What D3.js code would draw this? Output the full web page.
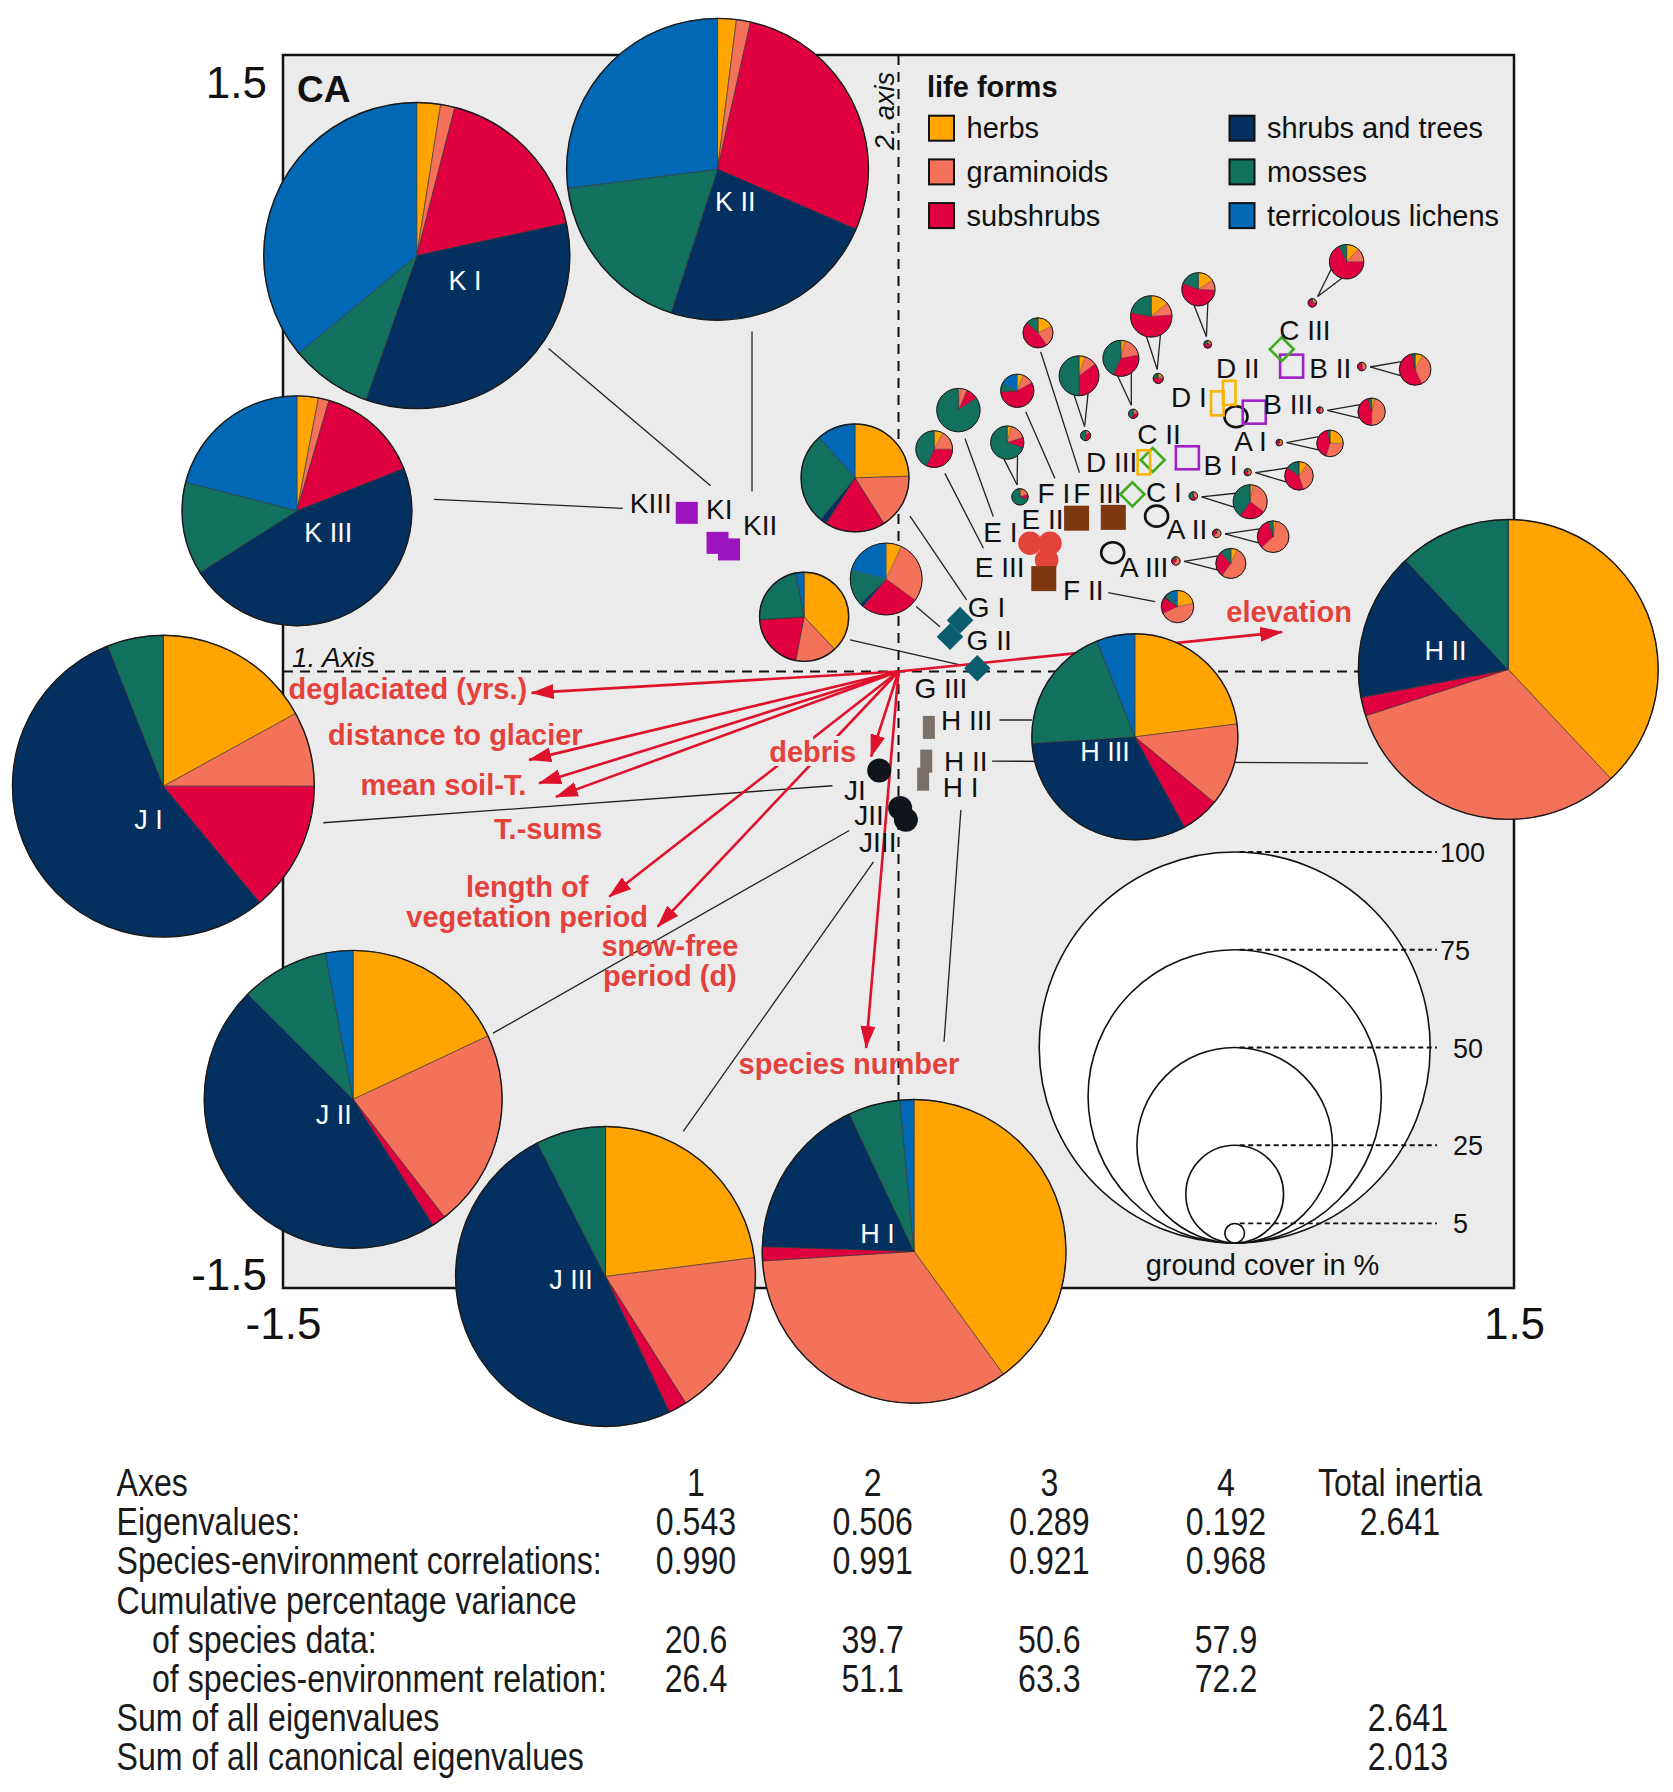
<!DOCTYPE html>
<html>
<head>
<meta charset="utf-8">
<title>CA life forms</title>
<script src="https://cdnjs.cloudflare.com/ajax/libs/d3/7.8.5/d3.min.js"></script>
<style>
  body { margin: 0; background: #fff; }
  text { font-family: "Liberation Sans", Arial, sans-serif; }
</style>
</head>
<body>
<svg id="chart" width="1673" height="1792"></svg>
<script>
// life form categories (pie slice order, clockwise from 12 o'clock)
var lifeForms = ["herbs", "graminoids", "subshrubs", "shrubs and trees", "mosses", "terricolous lichens"];
var lifeColors = ["#ffa400", "#f4715a", "#e1003f", "#03305e", "#12705e", "#0068b5"];

// site scores on CA axes 1 and 2
var siteScores = [
  ["A I", 0.8225, 0.620], ["A II", 0.629, 0.378], ["A III", 0.522, 0.289],
  ["B I", 0.704, 0.520], ["B II", 0.958, 0.743], ["B III", 0.867, 0.631],
  ["C I", 0.570, 0.431], ["C II", 0.6195, 0.5146], ["C III", 0.934, 0.784],
  ["D I", 0.777, 0.6525], ["D II", 0.806, 0.678], ["D III", 0.598, 0.509],
  ["E I", 0.3205, 0.312], ["E II", 0.369, 0.312], ["E III", 0.361, 0.271],
  ["F I", 0.434, 0.373], ["F II", 0.354, 0.226], ["F III", 0.5235, 0.375],
  ["G I", 0.150, 0.125], ["G II", 0.1255, 0.0847], ["G III", 0.192, 0.008],
  ["H I", 0.060, -0.262], ["H II", 0.0676, -0.218], ["H III", 0.074, -0.136],
  ["J I", -0.047, -0.241], ["J II", 0.004, -0.332], ["J III", 0.018, -0.361],
  ["K I", -0.441, 0.313], ["K II", -0.413, 0.297], ["K III", -0.516, 0.386]
];

// pie charts: name, centre x, centre y, ground cover %, life form shares %
var pies = [
  ["K I", -1.174, 1.012, 78.3, [2.5, 1.5, 17.6, 33.8, 8.6, 36]],
  ["K II", -0.441, 1.222, 77.2, [2, 1.5, 28, 23.5, 18, 27]],
  ["K III", -1.466, 0.391, 58.8, [3, 1.5, 14.5, 47, 13, 21]],
  ["J I", -1.7915, -0.279, 77.2, [17, 8, 14, 55, 6, 0]],
  ["J II", -1.329, -1.041, 76.2, [18, 21.5, 1.5, 46.5, 9.5, 3]],
  ["J III", -0.714, -1.472, 76.7, [23, 18, 2, 49.5, 7.5, 0]],
  ["H I", 0.038, -1.411, 77.7, [40, 34, 1.5, 17.5, 5.5, 1.5]],
  ["H II", 1.486, 0.005, 76.7, [38, 32, 2, 16, 12, 0]],
  ["H III", 0.576, -0.159, 52.7, [23, 13, 6, 32, 20, 6]],
  ["G I", -0.106, 0.471, 27.6, [24.5, 16.5, 18, 2, 27.5, 11.5]],
  ["G II", -0.030, 0.225, 18.4, [7, 28, 26, 2, 16, 21]],
  ["G III", -0.230, 0.133, 22.8, [38, 15, 21, 0, 23, 3]],
  ["E I", 0.146, 0.636, 11.1, [1.5, 5, 9, 0, 84.5, 0]],
  ["E II", 0.265, 0.557, 8.5, [4, 16, 10, 0, 70, 0]],
  ["E III", 0.087, 0.541, 9.4, [8, 17, 32, 0, 43, 0]],
  ["F I", 0.2895, 0.683, 8.5, [6, 11, 57, 0, 8, 18]],
  ["F II", 0.680, 0.158, 8.3, [22, 46, 16, 2, 5, 9]],
  ["F III", 0.340, 0.824, 7.7, [18, 22, 47, 0, 13, 0]],
  ["C III", 1.092, 0.997, 8.8, [12, 13, 68, 0, 7, 0]],
  ["D II", 0.731, 0.930, 8.5, [16, 10, 55, 0, 19, 0]],
  ["D I", 0.616, 0.864, 10.6, [14, 10, 54, 0, 22, 0]],
  ["C II", 0.542, 0.762, 9.2, [4, 18, 35, 0, 43, 0]],
  ["D III", 0.440, 0.7195, 10.2, [5, 10, 35, 0, 50, 0]],
  ["B II", 1.259, 0.735, 8.1, [8, 35, 54, 0, 3, 0]],
  ["B III", 1.153, 0.632, 7.0, [4, 46, 46, 0, 4, 0]],
  ["A I", 1.0516, 0.555, 6.8, [25, 30, 42, 0, 3, 0]],
  ["B I", 0.976, 0.476, 7.3, [10, 35, 40, 0, 15, 0]],
  ["C I", 0.857, 0.413, 8.7, [3, 32, 25, 0, 40, 0]],
  ["A II", 0.913, 0.328, 8.1, [3, 60, 32, 0, 5, 0]],
  ["A III", 0.810, 0.263, 7.7, [7, 53, 28, 0, 12, 0]]
];

// true-size pies for the magnified ones: name, x, y, ground cover %
var tinyPies = [
  ["E II", 0.296, 0.425, 4.2], ["C III", 1.0085, 0.897, 2.2], ["D II", 0.7535, 0.796, 2.0],
  ["D I", 0.633, 0.713, 2.6], ["C II", 0.572, 0.627, 2.4], ["D III", 0.456, 0.574, 2.6],
  ["B II", 1.129, 0.742, 2.2], ["B III", 1.027, 0.636, 1.7], ["A I", 0.928, 0.557, 1.7],
  ["B I", 0.851, 0.485, 1.9], ["C I", 0.7185, 0.427, 2.2], ["A II", 0.7755, 0.336, 2.2],
  ["A III", 0.676, 0.269, 2.2]
];

// leader lines between pies and sites
var leaders = [
  [-0.853, 0.786, -0.458, 0.452], [-0.357, 0.8275, -0.357, 0.438], [-1.132, 0.419, -0.672, 0.397],
  [-1.402, -0.368, -0.161, -0.278], [-0.988, -0.880, -0.120, -0.387], [-0.5245, -1.119, -0.061, -0.463],
  [0.111, -0.901, 0.152, -0.337], [0.228, -0.218, 1.144, -0.223], [0.246, -0.118, 0.325, -0.118],
  [0.028, 0.378, 0.166, 0.174], [0.043, 0.158, 0.101, 0.109], [-0.118, 0.077, 0.150, 0.016],
  [0.162, 0.567, 0.231, 0.377], [0.113, 0.482, 0.207, 0.300], [0.310, 0.632, 0.381, 0.470],
  [0.3465, 0.778, 0.441, 0.484], [0.511, 0.192, 0.625, 0.170]
];

// environmental variables (arrow tips)
var envVectors = [
  ["deglaciated (yrs.)", -0.894, -0.052], ["distance to glacier", -0.900, -0.215],
  ["mean soil-T.", -0.876, -0.272], ["T.-sums", -0.835, -0.305],
  ["length of vegetation period", -0.705, -0.548], ["snow-free period (d)", -0.587, -0.621],
  ["debris", -0.067, -0.207], ["species number", -0.079, -0.916], ["elevation", 0.935, 0.096]
];
var envLabels = [
  [["deglaciated (yrs.)"], -0.905, -0.067, "end"], [["distance to glacier"], -1.080, -0.179, "middle"],
  [["mean soil-T."], -1.109, -0.3005, "middle"], [["T.-sums"], -0.854, -0.4075, "middle"],
  [["length of", "vegetation period"], -0.905, -0.5487, "middle"],
  [["snow-free", "period (d)"], -0.557, -0.6934, "middle"],
  [["debris"], -0.209, -0.220, "middle"], [["species number"], -0.1206, -0.979, "middle"],
  [["elevation"], 0.952, 0.120, "middle"]
];

// site label anchors
var siteLabels = [
  ["KIII", -0.655, 0.386], ["KI", -0.469, 0.372], ["KII", -0.379, 0.331],
  ["G I", 0.169, 0.133], ["G II", 0.166, 0.052], ["G III", 0.039, -0.064],
  ["H III", 0.1036, -0.142], ["H II", 0.111, -0.241], ["H I", 0.108, -0.305],
  ["JI", -0.133, -0.313], ["JII", -0.108, -0.373], ["JIII", -0.096, -0.438],
  ["E I", 0.2067, 0.316], ["E II", 0.300, 0.346], ["E III", 0.186, 0.231],
  ["F I", 0.339, 0.409], ["F III", 0.426, 0.409], ["F II", 0.401, 0.174],
  ["D III", 0.457, 0.486], ["C II", 0.582, 0.553], ["C I", 0.603, 0.413],
  ["B I", 0.743, 0.478], ["A II", 0.654, 0.322], ["A III", 0.540, 0.231],
  ["C III", 0.928, 0.807], ["D II", 0.774, 0.715], ["B II", 1.001, 0.715],
  ["D I", 0.664, 0.644], ["B III", 0.889, 0.626], ["A I", 0.818, 0.5365]
];
var pieLabels = [
  ["K I", -1.0565, 0.928], ["K II", -0.398, 1.120], ["K III", -1.390, 0.315],
  ["J I", -1.828, -0.383], ["J II", -1.376, -1.101], ["J III", -0.798, -1.502],
  ["H I", -0.051, -1.390], ["H II", 1.333, 0.028], ["H III", 0.503, -0.218]
];

var coverLegend = [100, 75, 50, 25, 5];

// statistics table
var tableRows = ["Axes", "Eigenvalues:", "Species-environment correlations:", "Cumulative percentage variance",
  "of species data:", "of species-environment relation:", "Sum of all eigenvalues", "Sum of all canonical eigenvalues"];
var axisNums = [1, 2, 3, 4];
var eigenvalues = [0.543, 0.506, 0.289, 0.192];
var correlations = [0.990, 0.991, 0.921, 0.968];
var cumSpecies = [20.6, 39.7, 50.6, 57.9];
var cumRelation = [26.4, 51.1, 63.3, 72.2];
var totalInertia = 2.641, sumAll = 2.641, sumCanonical = 2.013;

// marker style per site group
var markerStyle = {
  A: {shape: "ellipse", fill: "none", stroke: "#111"},
  B: {shape: "square", size: 23, fill: "none", stroke: "#9e22c6"},
  C: {shape: "diamond", size: 12, fill: "none", stroke: "#3faa1e"},
  D: {shape: "rect", w: 12.5, h: 24, fill: "none", stroke: "#f7b500"},
  E: {shape: "circle", r: 11.8, fill: "#e2433a"},
  F: {shape: "square", size: 25, fill: "#7d3810"},
  G: {shape: "diamond", size: 13.3, fill: "#0b5c6e"},
  H: {shape: "rect", w: 12, h: 23, fill: "#7a7067"},
  J: {shape: "circle", r: 12, fill: "#0f141a"},
  K: {shape: "square", size: 22, fill: "#9c14be"}
};

var svg = d3.select("#chart");
var x = d3.scaleLinear().domain([-1.5, 1.5]).range([283, 1514]);
var y = d3.scaleLinear().domain([-1.5, 1.5]).range([1288, 55]);
var rScale = d3.scaleLinear().domain([0, 100]).range([0, 195.5]);
var red = "#e0112b", redText = "#e4413c";

var defs = svg.append("defs");
defs.append("marker").attr("id", "ah")
    .attr("viewBox", "0 -7.5 23 15").attr("refX", 22).attr("refY", 0)
    .attr("markerWidth", 23).attr("markerHeight", 15)
    .attr("markerUnits", "userSpaceOnUse").attr("orient", "auto")
  .append("path").attr("d", "M0,-7.5L23,0L0,7.5Z").attr("fill", red);

// plot area
svg.append("rect")
    .attr("x", x(-1.5)).attr("y", y(1.5))
    .attr("width", x(1.5) - x(-1.5)).attr("height", y(-1.5) - y(1.5))
    .attr("fill", "#ebebeb").attr("stroke", "#111").attr("stroke-width", 2.5);

svg.append("line").attr("x1", x(0)).attr("x2", x(0)).attr("y1", y(1.5)).attr("y2", y(-1.5))
    .attr("stroke", "#111").attr("stroke-width", 2).attr("stroke-dasharray", "10,7");
svg.append("line").attr("x1", x(-1.5)).attr("x2", x(1.5)).attr("y1", y(0)).attr("y2", y(0))
    .attr("stroke", "#111").attr("stroke-width", 2).attr("stroke-dasharray", "10,7");

// leader lines
svg.append("g").selectAll("line").data(leaders).enter().append("line")
    .attr("x1", function(d) { return x(d[0]); }).attr("y1", function(d) { return y(d[1]); })
    .attr("x2", function(d) { return x(d[2]); }).attr("y2", function(d) { return y(d[3]); })
    .attr("stroke", "#222").attr("stroke-width", 1.3);

var pieByName = {};
pies.forEach(function(p) { pieByName[p[0]] = p; });

// V shaped connectors from true-size pie to magnified pie
var vg = svg.append("g");
tinyPies.forEach(function(t) {
  var p = pieByName[t[0]];
  var cx = x(p[1]), cy = y(p[2]), R = rScale(p[3]);
  var tx = x(t[1]), ty = y(t[2]), tr = rScale(t[3]);
  var dx = cx - tx, dy = cy - ty, dd = Math.sqrt(dx * dx + dy * dy);
  var ux = dx / dd, uy = dy / dd;
  var ax = tx + ux * (tr + 4), ay = ty + uy * (tr + 4);
  var h = Math.min(7, R * 0.5), back = Math.sqrt(R * R - h * h);
  [-1, 1].forEach(function(s) {
    vg.append("line").attr("x1", ax).attr("y1", ay)
      .attr("x2", cx - ux * back - s * uy * h).attr("y2", cy - uy * back + s * ux * h)
      .attr("stroke", "#222").attr("stroke-width", 1.3);
  });
});

// environmental arrows
var origin = [x(0), y(0)];
svg.append("g").selectAll("line").data(envVectors).enter().append("line")
    .attr("x1", origin[0]).attr("y1", origin[1])
    .attr("x2", function(d) { return x(d[1]); }).attr("y2", function(d) { return y(d[2]); })
    .attr("stroke", red).attr("stroke-width", 2.6).attr("marker-end", "url(#ah)");

// pies
var pieGen = d3.pie().sort(null).value(function(d) { return d; });
var arc = d3.arc().innerRadius(0);
function drawPie(parent, cx, cy, r, shares) {
  var pg = parent.append("g").attr("transform", "translate(" + cx + "," + cy + ")");
  pg.selectAll("path").data(pieGen(shares)).enter().append("path")
    .attr("d", function(d) { return arc.outerRadius(r)(d); })
    .attr("fill", function(d, i) { return lifeColors[i]; })
    .attr("stroke", "#333").attr("stroke-width", r > 40 ? 0.6 : 0.3);
  pg.append("circle").attr("r", r).attr("fill", "none")
    .attr("stroke", "#1a1a1a").attr("stroke-width", r > 40 ? 1.4 : 1);
}
var pieLayer = svg.append("g");
pies.forEach(function(p) { drawPie(pieLayer, x(p[1]), y(p[2]), rScale(p[3]), p[4]); });
tinyPies.forEach(function(t) { drawPie(pieLayer, x(t[1]), y(t[2]), rScale(t[3]), pieByName[t[0]][4]); });

// site markers
var mk = svg.append("g");
siteScores.forEach(function(s) {
  var st = markerStyle[s[0].charAt(0)];
  var px = x(s[1]), py = y(s[2]), el;
  if (st.shape === "ellipse") {
    el = mk.append("ellipse").attr("cx", px).attr("cy", py).attr("rx", 11.5).attr("ry", 10.5);
  } else if (st.shape === "circle") {
    el = mk.append("circle").attr("cx", px).attr("cy", py).attr("r", st.r);
  } else if (st.shape === "square") {
    el = mk.append("rect").attr("x", px - st.size / 2).attr("y", py - st.size / 2)
      .attr("width", st.size).attr("height", st.size);
  } else if (st.shape === "rect") {
    el = mk.append("rect").attr("x", px - st.w / 2).attr("y", py - st.h / 2)
      .attr("width", st.w).attr("height", st.h);
  } else {
    var a = st.size;
    el = mk.append("path").attr("d", "M" + px + "," + (py - a) + "L" + (px + a) + "," + py +
      "L" + px + "," + (py + a) + "L" + (px - a) + "," + py + "Z");
  }
  el.attr("fill", st.fill);
  if (st.stroke) el.attr("stroke", st.stroke).attr("stroke-width", 2.6);
});

// site labels
svg.append("g").selectAll("text").data(siteLabels).enter().append("text")
    .attr("x", function(d) { return x(d[1]); }).attr("y", function(d) { return y(d[2]); })
    .attr("font-size", 28).attr("fill", "#111").text(function(d) { return d[0]; });

// pie labels
svg.append("g").selectAll("text").data(pieLabels).enter().append("text")
    .attr("x", function(d) { return x(d[1]); }).attr("y", function(d) { return y(d[2]); })
    .attr("text-anchor", "middle").attr("font-size", 27).attr("fill", "#fff")
    .text(function(d) { return d[0]; });

// environmental labels
var el = svg.append("g").selectAll("text").data(envLabels).enter().append("text")
    .attr("x", function(d) { return x(d[1]); }).attr("y", function(d) { return y(d[2]); })
    .attr("text-anchor", function(d) { return d[3]; })
    .attr("font-size", 29).attr("font-weight", "bold").attr("fill", redText)
    .style("paint-order", "stroke")
    .attr("stroke", function(d) { return d[0][0] === "debris" ? "#ebebeb" : "none"; })
    .attr("stroke-width", 8);
el.each(function(d) {
  var t = d3.select(this);
  d[0].forEach(function(line, i) {
    t.append("tspan").attr("x", x(d[1])).attr("dy", i === 0 ? 0 : 30).text(line);
  });
});

// life form legend
var lg = svg.append("g");
lg.append("text").attr("x", 927).attr("y", 97).attr("font-size", 29).attr("font-weight", "bold")
    .attr("fill", "#111").text("life forms");
lifeForms.forEach(function(name, i) {
  var col = Math.floor(i / 3), row = i % 3;
  var lx = col === 0 ? 929 : 1229.5, ly = 115.7 + row * 43.7;
  lg.append("rect").attr("x", lx).attr("y", ly).attr("width", 25).attr("height", 25)
    .attr("fill", lifeColors[i]).attr("stroke", "#111").attr("stroke-width", 2);
  lg.append("text").attr("x", lx + 37.5).attr("y", ly + 22.5).attr("font-size", 29)
    .attr("fill", "#111").text(name);
});

// ground cover legend
var cg = svg.append("g");
var lcx = 1234.7, lbottom = 1243;
cg.selectAll("circle").data(coverLegend).enter().append("circle")
    .attr("cx", lcx).attr("cy", function(d) { return lbottom - rScale(d); })
    .attr("r", function(d) { return rScale(d); })
    .attr("fill", "#fff").attr("stroke", "#111").attr("stroke-width", 1.6);
cg.selectAll("line").data(coverLegend).enter().append("line")
    .attr("x1", lcx + 5).attr("x2", 1437)
    .attr("y1", function(d) { return lbottom - 2 * rScale(d); })
    .attr("y2", function(d) { return lbottom - 2 * rScale(d); })
    .attr("stroke", "#111").attr("stroke-width", 1.8).attr("stroke-dasharray", "5,3.5");
cg.selectAll("text.v").data(coverLegend).enter().append("text")
    .attr("x", function(d) { return d >= 75 ? 1440 : 1453; })
    .attr("y", function(d) { return lbottom - 2 * rScale(d) + 10; })
    .attr("font-size", 27).attr("fill", "#111").text(function(d) { return d; });
cg.append("text").attr("x", 1262.5).attr("y", 1275).attr("text-anchor", "middle")
    .attr("font-size", 29).attr("fill", "#111").text("ground cover in %");

// axes tick labels
var yAxis = svg.append("g").attr("transform", "translate(267,0)")
    .call(d3.axisLeft(y).tickValues([-1.5, 1.5]).tickSize(0).tickPadding(0)
      .tickFormat(function(d) { return String(d); }));
yAxis.select(".domain").remove();
yAxis.selectAll("text").attr("font-size", 44).attr("fill", "#111")
    .attr("font-family", "Liberation Sans, Arial, sans-serif")
    .attr("dy", function(d) { return d > 0 ? 42 : 1; });
var xAxis = svg.append("g").attr("transform", "translate(0,1288)")
    .call(d3.axisBottom(x).tickValues([-1.5, 1.5]).tickSize(0).tickPadding(0)
      .tickFormat(function(d) { return String(d); }));
xAxis.select(".domain").remove();
xAxis.selectAll("text").attr("font-size", 44).attr("fill", "#111")
    .attr("font-family", "Liberation Sans, Arial, sans-serif")
    .attr("y", 0).attr("dy", 51);

svg.append("text").attr("x", 297).attr("y", 102).attr("font-size", 37).attr("font-weight", "bold")
    .attr("fill", "#111").text("CA");
svg.append("text").attr("x", 292).attr("y", 667).attr("font-size", 28).attr("font-style", "italic")
    .attr("fill", "#111").text("1. Axis");
svg.append("text").attr("transform", "translate(894,150) rotate(-90)")
    .attr("font-size", 27).attr("font-style", "italic").attr("fill", "#111").text("2. axis");

// statistics table (narrow type)
var tg = svg.append("g").attr("fill", "#1a1a1a");
var colX = d3.scaleLinear().domain([1, 4]).range([696, 1226]);
var rowY = function(i) { return 1496 + 39.2 * i; };
function tText(tx, ty, str, anchor) {
  tg.append("text").attr("transform", "translate(" + tx + "," + ty + ") scale(0.845,1)")
    .attr("text-anchor", anchor || "start").attr("font-size", 38).text(str);
}
tableRows.forEach(function(r, i) { tText(i === 4 || i === 5 ? 152 : 116.5, rowY(i), r); });
var f3 = d3.format(".3f"), f1 = d3.format(".1f");
axisNums.forEach(function(a, i) {
  tText(colX(a), rowY(0), String(a), "middle");
  tText(colX(a), rowY(1), f3(eigenvalues[i]), "middle");
  tText(colX(a), rowY(2), f3(correlations[i]), "middle");
  tText(colX(a), rowY(4), f1(cumSpecies[i]), "middle");
  tText(colX(a), rowY(5), f1(cumRelation[i]), "middle");
});
tText(1400, rowY(0), "Total inertia", "middle");
tText(1400, rowY(1), f3(totalInertia), "middle");
tText(1408, rowY(6), f3(sumAll), "middle");
tText(1408, rowY(7), f3(sumCanonical), "middle");
</script>
</body>
</html>
